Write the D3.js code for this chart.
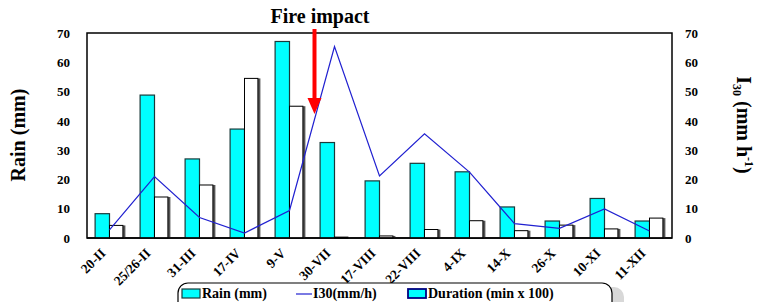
<!DOCTYPE html>
<html>
<head>
<meta charset="utf-8">
<script src="https://cdn.jsdelivr.net/npm/d3@7"></script>
<style>
  body { margin: 0; background: #fff; }
  svg { display: block; font-family: "Liberation Serif", "Times New Roman", serif; font-weight: bold; }
</style>
</head>
<body>
<svg id="chart" width="770" height="302"></svg>
<script>
var dates = ["20-II", "25/26-II", "31-III", "17-IV", "9-V", "30-VII", "17-VIII", "22-VIII", "4-IX", "14-X", "26-X", "10-XI", "11-XII"];
var rain = [8.3, 48.8, 27, 37.2, 67.1, 32.6, 19.5, 25.5, 22.6, 10.6, 5.8, 13.5, 5.8];
var duration = [4.3, 14, 18.1, 54.5, 45, 0.3, 0.7, 2.9, 5.9, 2.5, 4.4, 3.1, 6.8];
var i30 = [2.8, 21, 7, 1.7, 9.4, 65.4, 21.2, 35.6, 22.5, 4.9, 3.3, 9.9, 2.4];
var yTicks = [0, 10, 20, 30, 40, 50, 60, 70];

const svg = d3.select('#chart');
const margin = { top: 33, right: 98, bottom: 64, left: 87 },
    width = 770 - margin.left - margin.right,
    height = 302 - margin.top - margin.bottom;

const g = svg.append('g')
    .attr('transform', 'translate(' + margin.left + ',' + margin.top + ')');

var x = d3.scaleBand().domain(dates).range([0, width]).paddingInner(0.36).paddingOuter(0.18);
var xSub = d3.scaleBand().domain(['rain', 'dur']).range([0, x.bandwidth()]);
var center = d => x(d) + x.bandwidth() / 2;
var y = d3.scaleLinear().domain([0, 70]).range([height, 0]);
var y2 = d3.scaleLinear().domain([0, 70]).range([height, 0]);

// frame
g.append('rect')
    .attr('width', width).attr('height', height)
    .attr('fill', 'none').attr('stroke', '#000').attr('stroke-width', 1.5);

// rain bars
g.selectAll('.rain')
    .data(dates)
    .enter().append('rect')
    .attr('class', 'rain')
    .attr('x', (d, i) => x(d) + xSub('rain'))
    .attr('y', (d, i) => y(rain[i]))
    .attr('width', xSub.bandwidth())
    .attr('height', (d, i) => height - y(rain[i]))
    .attr('fill', '#00ffff')
    .attr('stroke', '#1a3a3a')
    .attr('stroke-width', 1.2);

// duration bars (white with grey shadow)
g.selectAll('.durShadow')
    .data(dates)
    .enter().append('rect')
    .attr('class', 'durShadow')
    .attr('x', (d, i) => x(d) + xSub('dur') + 1.5)
    .attr('y', (d, i) => y(duration[i]))
    .attr('width', xSub.bandwidth())
    .attr('height', (d, i) => height - y(duration[i]))
    .attr('fill', '#555');
g.selectAll('.dur')
    .data(dates)
    .enter().append('rect')
    .attr('class', 'dur')
    .attr('x', (d, i) => x(d) + xSub('dur'))
    .attr('y', (d, i) => y(duration[i]))
    .attr('width', xSub.bandwidth() - 1)
    .attr('height', (d, i) => height - y(duration[i]))
    .attr('fill', '#fff')
    .attr('stroke', '#000')
    .attr('stroke-width', 1);

// I30 line
var line = d3.line()
    .x((d, i) => center(dates[i]))
    .y(d => y2(d));
g.append('path')
    .datum(i30)
    .attr('d', line)
    .attr('fill', 'none')
    .attr('stroke', '#2020d0')
    .attr('stroke-width', 1.2);

// redraw bottom edge on top
g.append('line')
    .attr('x1', 0).attr('x2', width).attr('y1', height).attr('y2', height)
    .attr('stroke', '#000').attr('stroke-width', 1.5);

// axes (labels only)
function styleAxis(ax) {
    ax.attr('font-family', null).attr('font-size', null);
    ax.select('.domain').remove();
    ax.selectAll('text').attr('fill', '#000');
}
var yAxis = g.append('g')
    .call(d3.axisLeft(y).tickValues(yTicks).tickSize(0).tickPadding(17));
styleAxis(yAxis);
yAxis.selectAll('text').attr('font-size', 13);

var yAxis2 = g.append('g')
    .attr('transform', 'translate(' + width + ',0)')
    .call(d3.axisRight(y2).tickValues(yTicks).tickSize(0).tickPadding(13));
styleAxis(yAxis2);
yAxis2.selectAll('text').attr('font-size', 13);

var xAxis = g.append('g')
    .attr('transform', 'translate(0,' + height + ')')
    .call(d3.axisBottom(x).tickSize(0).tickPadding(0));
styleAxis(xAxis);
xAxis.selectAll('text')
    .attr('font-size', 13.5)
    .style('text-anchor', 'end')
    .attr('y', 0).attr('dy', 0)
    .attr('transform', 'translate(-3,16) rotate(-45)');

// axis titles
svg.append('text')
    .attr('transform', 'translate(25,135) rotate(-90)')
    .attr('text-anchor', 'middle')
    .attr('font-size', 20)
    .text('Rain (mm)');

var t2 = svg.append('text')
    .attr('transform', 'translate(737,125) rotate(90)')
    .attr('text-anchor', 'middle')
    .attr('font-size', 20);
t2.append('tspan').text('I');
t2.append('tspan').attr('font-size', 12).attr('dy', 4).text('30');
t2.append('tspan').attr('dy', -4).text(' (mm h');
t2.append('tspan').attr('font-size', 12).attr('dy', -8).text('-1');
t2.append('tspan').attr('dy', 8).text(')');

// fire impact annotation
svg.append('text')
    .attr('x', 320).attr('y', 23)
    .attr('text-anchor', 'middle')
    .attr('font-size', 20)
    .text('Fire impact');

var fx = margin.left + center('30-VII') - 20;
svg.append('line')
    .attr('x1', fx).attr('x2', fx)
    .attr('y1', 29).attr('y2', 100)
    .attr('stroke', '#ff0000').attr('stroke-width', 4);
svg.append('path')
    .attr('d', 'M' + (fx - 7) + ',98 L' + (fx + 7) + ',98 L' + fx + ',114 Z')
    .attr('fill', '#ff0000');

// legend
var lg = svg.append('g');
lg.append('rect')
    .attr('x', 186).attr('y', 287).attr('width', 438).attr('height', 30).attr('rx', 10)
    .attr('fill', '#d8d8d8');
lg.append('rect')
    .attr('x', 178).attr('y', 283).attr('width', 434).attr('height', 30).attr('rx', 10)
    .attr('fill', '#fff').attr('stroke', '#000').attr('stroke-width', 1.2);

var legendItems = [
    { key: 'Rain (mm)', type: 'rain', x: 182 },
    { key: 'I30(mm/h)', type: 'line', x: 296 },
    { key: 'Duration (min x 100)', type: 'dur', x: 408 }
];
var li = lg.selectAll('.li')
    .data(legendItems)
    .enter().append('g')
    .attr('transform', d => 'translate(' + d.x + ',289)');
li.filter(d => d.type !== 'line').append('rect')
    .attr('width', 18).attr('height', 9)
    .attr('fill', '#00ffff')
    .attr('stroke', d => d.type === 'dur' ? '#000080' : '#1a3a3a')
    .attr('stroke-width', d => d.type === 'dur' ? 1.8 : 1.2);
li.filter(d => d.type === 'line').append('line')
    .attr('x1', 0).attr('x2', 16).attr('y1', 5).attr('y2', 5)
    .attr('stroke', '#2020d0').attr('stroke-width', 1.2);
li.append('text')
    .attr('x', d => d.type === 'line' ? 17 : 20)
    .attr('y', 9)
    .attr('font-size', 14)
    .text(d => d.key);
</script>
</body>
</html>
